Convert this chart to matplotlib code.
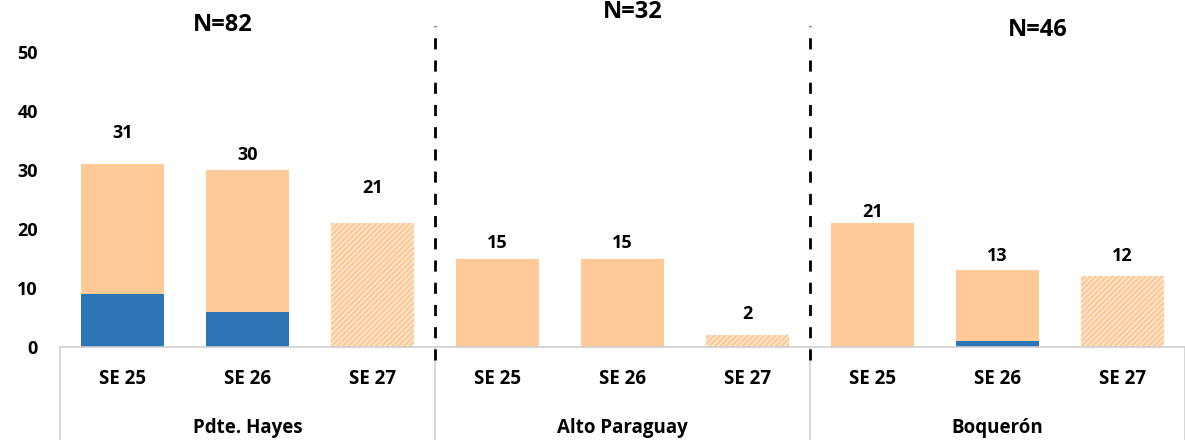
import numpy as np
import matplotlib.pyplot as plt

plt.rcParams["font.family"] = ["Open Sans", "DejaVu Sans"]
plt.rcParams["font.weight"] = "bold"
plt.rcParams["hatch.linewidth"] = 2.2

# datos
semanas = ["SE 25", "SE 26", "SE 27"] * 3
regiones = ["Pdte. Hayes", "Alto Paraguay", "Boquerón"]
totales_n = ["N=82", "N=32", "N=46"]
total = [31, 30, 21, 15, 15, 2, 21, 13, 12]
azul = [9, 6, 0, 0, 0, 0, 0, 1, 0]
parcial = [False, False, True, False, False, True, False, False, True]

# desplazamiento de etiquetas (px sobre la barra)
off_px = [31, 15, 35, 15, 15, 21, 11, 14, 20]

c_naranja = "#FFCA98"
c_azul = "#2E75B6"

fig = plt.figure(figsize=(11.85, 4.4), dpi=100)
ax = fig.add_axes([60 / 1185, 93 / 440, 1125 / 1185, 324.5 / 440])
x = np.arange(len(total))
resto = np.array(total) - np.array(azul)

for i in range(len(total)):
    if parcial[i]:
        ax.bar(x[i], total[i], width=0.67, color="white", edgecolor=c_naranja,
               hatch="//////", linewidth=0)
    else:
        ax.bar(x[i], azul[i], width=0.67, color=c_azul, linewidth=0)
        ax.bar(x[i], resto[i], bottom=azul[i], width=0.67, color=c_naranja, linewidth=0)
    ax.annotate(str(total[i]), (x[i], total[i]), xytext=(0, off_px[i] * 0.72),
                textcoords="offset points", ha="center", va="center",
                fontsize=13, fontweight="bold")

ax.set_xlim(-0.5, 8.5)
ax.set_ylim(0, 55)
ax.set_yticks([0, 10, 20, 30, 40, 50])
ax.tick_params(axis="y", length=0, labelsize=13, pad=16)
ax.set_xticks([])
for s in ["top", "right", "left"]:
    ax.spines[s].set_visible(False)
ax.spines["bottom"].set_color("#D0D0D0")
ax.spines["bottom"].set_linewidth(1.2)

trans = ax.get_xaxis_transform()
# etiquetas de semana y region
for i in range(len(semanas)):
    ax.text(x[i], -0.099, semanas[i], transform=trans, ha="center", va="center",
            fontsize=13.5, fontweight="bold")
for j, reg in enumerate(regiones):
    ax.text(3 * j + 1, -0.25, reg, transform=trans, ha="center", va="center",
            fontsize=13.5, fontweight="bold")

# lineas de separacion
for xs in [-0.5, 2.5, 5.5, 8.5]:
    ax.plot([xs, xs], [0, -0.3], transform=trans, color="#D0D0D0", lw=1.2,
            clip_on=False)
for xs in [2.5, 5.5]:
    ax.plot([xs, xs], [-0.04, 0.99], transform=trans, color="black", lw=2,
            ls=(0, (4, 4)), clip_on=False)

# N por region
n_pos = [(0.8, 0.992), (4.08, 1.032), (7.32, 0.977)]
for (xp, yp), t in zip(n_pos, totales_n):
    ax.text(xp, yp, t, transform=trans, ha="center", va="center",
            fontsize=17, fontweight="bold")

fig.savefig("out.png", dpi=100)
